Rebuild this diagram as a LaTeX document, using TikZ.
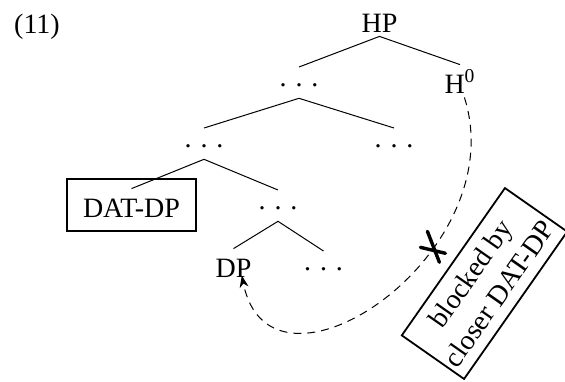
\documentclass[tikz,border=0pt]{standalone}
\usepackage{fontspec}
\setmainfont{Liberation Serif}
\usetikzlibrary{arrows.meta,fit}
\newcommand{\tdots}{.\hspace{0.32em}.\hspace{0.32em}.}
\begin{document}
\begin{tikzpicture}[x=0.5pt,y=-0.5pt,
    every node/.style={font=\fontsize{14}{17.5}\selectfont},
    lab/.style={inner sep=0pt,text height=14pt,text depth=2pt,anchor=base},
    dotsn/.style={inner sep=0pt,text height=9.5pt,text depth=5.75pt,anchor=base},
    branch/.style={line width=0.5pt},
    box/.style={draw,line width=0.9pt},
    xmark/.style={line width=1.7pt,line cap=round}]
  \useasboundingbox (0,0) rectangle (565,381);
  \node[lab] (ex) at (37,33.5) {(11)};
  % tree
  \node[lab] (hp) at (379.5,32) {HP};
  \node[dotsn] (d1) at (299,86.4) {\tdots};
  \node[lab] (h0) at (460,93) {H\textsuperscript{0}};
  \node[dotsn] (d2) at (204,147.4) {\tdots};
  \node[dotsn] (d3) at (394,147.4) {\tdots};
  \node[lab] (dat) at (131.5,217) {DAT-DP};
  \node[dotsn] (d4) at (278,209.4) {\tdots};
  \node[lab] (dp) at (233.5,277) {DP};
  \node[dotsn] (d5) at (323.5,270.4) {\tdots};
  \draw[branch] (d1.north) -- (hp.south) -- (h0.north);
  \draw[branch] (d2.north) -- (d1.south) -- (d3.north);
  \draw[branch] (dat.north) -- (d2.south) -- (d4.north);
  \draw[branch] (dp.north) -- (d4.south) -- (d5.north);
  \node[box,fit=(dat),inner xsep=8pt,inner ysep=4.75pt] (datbox) {};
  % movement
  \draw[branch,dash pattern=on 4pt off 3pt,-{Stealth[length=6pt,width=4.5pt]},shorten >=-3pt]
    (h0.-75) .. controls +(50,158) and +(27,137) .. coordinate[pos=0.34] (blk) (dp.-60);
  \draw[xmark] ([shift={(-6,-17)}]blk) -- ([shift={(6,14)}]blk);
  \draw[xmark] ([shift={(-13,-1)}]blk) -- ([shift={(12,5)}]blk);
  \node[box,rotate=55,align=center,inner xsep=2.25pt,minimum height=38pt] (note)
    at (484.5,283.5) {blocked by\\closer DAT-DP};
\end{tikzpicture}
\end{document}
